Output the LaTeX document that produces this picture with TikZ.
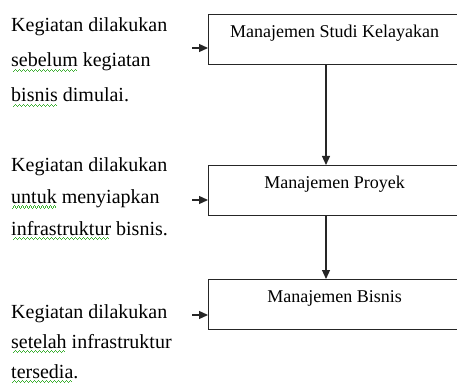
\documentclass[tikz,border=0pt]{standalone}
\usepackage{fontspec}
\setmainfont{Liberation Serif}
\usepackage{tikz}
\usetikzlibrary{
  positioning,
  calc,
  arrows.meta
}
\definecolor{spellgreen}{RGB}{60,175,50}
\newsavebox\spellbox
\newcommand{\spellmark}[1]{\sbox\spellbox{#1}%
  \rlap{\color{spellgreen}\hbox to \wd\spellbox{\cleaders\hbox{%
    \rule[-5pt]{1pt}{1pt}\rule[-4pt]{1pt}{1pt}\rule[-3pt]{1pt}{1pt}\rule[-4pt]{1pt}{1pt}}\hfill}}%
  \usebox\spellbox}
\tikzstyle{box}=[draw=black!85, line width=1.2pt, anchor=north west, minimum width=252pt,
  inner sep=0pt, text height=23pt, text depth=27pt, font=\fontsize{18}{20}\selectfont]
\tikzstyle{flow}=[-{Triangle[length=9pt,width=8pt]}, black!85, line width=1.2pt]
\tikzstyle{note}=[anchor=base west, align=left, inner sep=0pt]

\begin{document}
\begin{tikzpicture}[x=1pt,y=-1pt]
    \useasboundingbox (0,0) rectangle (457,387);
    \clip (0,0) rectangle (457,387);

    % KOTAK
    \node[box] (studi)  at (208,14)  {Manajemen Studi Kelayakan};
    \node[box] (proyek) at (208,165) {Manajemen Proyek};
    \node[box] (bisnis) at (208,279) {Manajemen Bisnis};

    % KETERANGAN (anchor di baris terakhir)
    \node[note,font=\fontsize{20}{35}\selectfont] (ket-studi) at (11,102)
      {Kegiatan dilakukan\\ \spellmark{sebelum} kegiatan\\ \spellmark{bisnis} dimulai.};
    \node[note,font=\fontsize{20}{31.5}\selectfont] (ket-proyek) at (11,235)
      {Kegiatan dilakukan\\ \spellmark{untuk} menyiapkan\\ \spellmark{infrastruktur} bisnis.};
    \node[note,font=\fontsize{20}{30}\selectfont] (ket-bisnis) at (11,378)
      {Kegiatan dilakukan\\ \spellmark{setelah} infrastruktur\\ \spellmark{tersedia}.};

    % PANAH MASUK
    \coordinate (in-studi)  at (192,48);
    \coordinate (in-proyek) at (192,200);
    \coordinate (in-bisnis) at (192,315);
    \draw[flow] (in-studi)  -- (in-studi -| studi.west);
    \draw[flow] (in-proyek) -- (in-proyek -| proyek.west);
    \draw[flow] (in-bisnis) -- (in-bisnis -| bisnis.west);

    % ALUR
    \draw[flow] ([xshift=118pt]studi.south west)  -- ([xshift=118pt]proyek.north west);
    \draw[flow] ([xshift=118pt]proyek.south west) -- ([xshift=118pt]bisnis.north west);
\end{tikzpicture}
\end{document}
